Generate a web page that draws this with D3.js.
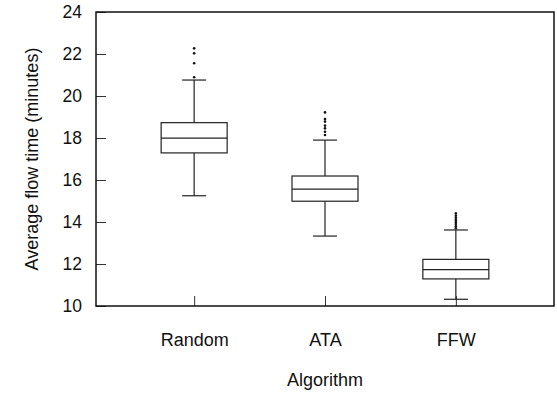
<!DOCTYPE html>
<html><head><meta charset="utf-8">
<script src="https://cdn.jsdelivr.net/npm/d3@7"></script>
<style>body{margin:0;background:#fff}</style>
</head><body>
<svg id="c" width="557" height="393"></svg>
<script>
const categories = ["Random", "ATA", "FFW"];
const q1 = [17.29, 14.99, 11.29];
const medians = [17.99, 15.57, 11.73];
const q3 = [18.73, 16.19, 12.22];
const whiskerLow = [15.25, 13.33, 10.32];
const whiskerHigh = [20.76, 17.9, 13.62];
const outliers = [
  [20.89, 21.56, 22.03, 22.27],
  [18.14, 18.3, 18.46, 18.59, 18.78, 18.9, 19.22],
  [13.7, 13.8, 13.9, 14.0, 14.1, 14.2, 14.3, 14.41]
];
const yTicks = [10, 12, 14, 16, 18, 20, 22, 24];

const svg = d3.select("#c");
const L = 96, R = 554, T = 12, B = 306;
const font = "'Liberation Sans', Arial, Helvetica, sans-serif";

const x = d3.scaleLinear().domain([0.25, 3.75]).range([L, R]);
const y = d3.scaleLinear().domain([10, 24]).range([B, T]);

// y axis ticks (inside)
const yAxis = d3.axisLeft(y).tickValues(yTicks).tickSizeInner(-10).tickSizeOuter(0).tickPadding(14);
const gy = svg.append("g").attr("transform", `translate(${L},0)`).call(yAxis);
gy.select(".domain").remove();
gy.selectAll(".tick line").attr("stroke", "#333").attr("stroke-width", 1);
gy.selectAll(".tick text").attr("font-family", font).attr("font-size", 17.5).attr("fill", "#111");

// x axis ticks (inside)
const xAxis = d3.axisBottom(x).tickValues([1, 2, 3]).tickFormat((d, i) => categories[i])
  .tickSizeInner(-10).tickSizeOuter(0).tickPadding(27);
const gx = svg.append("g").attr("transform", `translate(0,${B})`).call(xAxis);
gx.select(".domain").remove();
gx.selectAll(".tick line").attr("stroke", "#333").attr("stroke-width", 1);
gx.selectAll(".tick text").attr("font-family", font).attr("font-size", 18).attr("fill", "#111");

// frame
svg.append("rect").attr("x", L).attr("y", T).attr("width", R - L).attr("height", B - T)
  .attr("fill", "none").attr("stroke", "#111").attr("stroke-width", 1.5);

const boxW = 66, capW = 24;
categories.forEach((c, i) => {
  const cx = x(i + 1);
  const g = svg.append("g").attr("stroke", "#222").attr("stroke-width", 1.2).attr("fill", "none");
  // whiskers
  g.append("line").attr("x1", cx).attr("x2", cx).attr("y1", y(q3[i])).attr("y2", y(whiskerHigh[i]));
  g.append("line").attr("x1", cx).attr("x2", cx).attr("y1", y(q1[i])).attr("y2", y(whiskerLow[i]));
  g.append("line").attr("x1", cx - capW / 2).attr("x2", cx + capW / 2).attr("y1", y(whiskerHigh[i])).attr("y2", y(whiskerHigh[i]));
  g.append("line").attr("x1", cx - capW / 2).attr("x2", cx + capW / 2).attr("y1", y(whiskerLow[i])).attr("y2", y(whiskerLow[i]));
  // box
  g.append("rect").attr("x", cx - boxW / 2).attr("y", y(q3[i])).attr("width", boxW)
    .attr("height", y(q1[i]) - y(q3[i])).attr("fill", "#fff");
  g.append("line").attr("x1", cx - boxW / 2).attr("x2", cx + boxW / 2).attr("y1", y(medians[i])).attr("y2", y(medians[i]));
  // outliers
  svg.append("g").selectAll("circle").data(outliers[i]).join("circle")
    .attr("cx", cx).attr("cy", d => y(d)).attr("r", 1.3).attr("fill", "#111");
});

// axis titles
svg.append("text").attr("x", (L + R) / 2).attr("y", 386).attr("text-anchor", "middle")
  .attr("font-family", font).attr("font-size", 18).attr("fill", "#111").text("Algorithm");
svg.append("text").attr("transform", `translate(38,${(T + B) / 2}) rotate(-90)`).attr("text-anchor", "middle")
  .attr("font-family", font).attr("font-size", 18).attr("fill", "#111").text("Average flow time (minutes)");
</script>
</body></html>
